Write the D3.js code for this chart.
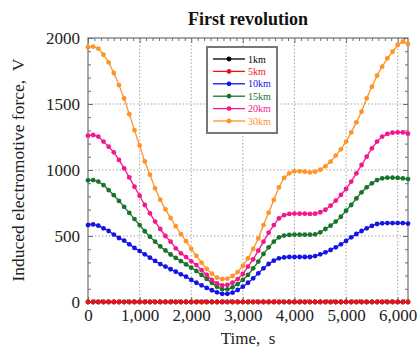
<!DOCTYPE html>
<html><head><meta charset="utf-8">
<script src="https://cdn.jsdelivr.net/npm/d3@7"></script>
<style>body{margin:0;background:#fff}svg{display:block}</style>
</head><body>
<svg id="c" width="417" height="347"></svg>
<script>
// ---- data ----
const times = d3.range(0, 6201, 100); // 63 samples, every 100 s
const seriesNames = ["1km", "5km", "10km", "15km", "20km", "30km"];
const seriesColors = ["#000000", "#e8141c", "#1414e6", "#17752a", "#f5168f", "#ff9426"];
const v1km = times.map(() => 0);
const v5km = times.map(() => 0);
const v10km = [583,588,578,558,538,511,485,465,437,410,386,361,336,311,287,268,248,230,210,192,167,146,126,107,89,73,62,62,
  71,91,116,146,179,217,255,288,313,331,338,341,341,341,341,341,348,361,376,394,414,437,462,490,515,538,558,576,591,596,598,598,598,598,594];
const v15km = [922,924,912,886,848,809,766,721,675,628,583,536,495,457,421,390,360,334,309,
  285,260,235,205,175,145,115,97,96,111,136,167,205,255,306,364,414,457,490,503,
  508,510,510,510,510,513,528,553,578,609,646,692,735,785,831,869,899,924,937,942,942,940,937,931];
const v20km = [1260,1265,1253,1215,1177,1134,1076,1013,944,874,805,735,672,609,553,500,457,407,369,340,308,280,
  242,205,167,141,126,129,146,174,212,268,323,389,457,525,583,634,658,
  667,670,669,669,667,669,680,699,730,768,811,856,912,975,1038,1101,1164,1215,1253,1273,1283,1285,1285,1275];
const v30km = [1930,1935,1920,1873,1815,1735,1643,1542,1423,1302,1186,1065,964,861,775,702,637,574,514,461,403,349,
  298,251,214,184,174,177,197,227,273,331,402,482,583,677,773,869,940,
  975,990,990,987,982,987,1002,1028,1063,1109,1157,1215,1285,1361,1442,1543,1631,1715,1783,1846,1896,1947,1972,1955];
const seriesValues = [v1km, v5km, v10km, v15km, v20km, v30km];
const xTicks = [0, 1000, 2000, 3000, 4000, 5000, 6000];
const yTicks = [0, 500, 1000, 1500, 2000];
const title = "First revolution";
const xTitle = "Time,\u00a0\u00a0s";
const yTitle = "Induced electromotive force,\u00a0\u00a0V";

// ---- layout ----
const L = 88, R = 408, T = 38, B = 302;
const svg = d3.select("#c");
const font = "'Liberation Serif', 'Times New Roman', serif";
const x = d3.scaleLinear().domain([0, 6200]).range([L, R]);
const y = d3.scaleLinear().domain([0, 2000]).range([B, T]);
const axisCol = "#6e6e6e";

// grid
const grid = svg.append("g");
grid.selectAll(".gx").data(xTicks.filter(d => d > 0)).join("line")
  .attr("x1", d => x(d)).attr("x2", d => x(d)).attr("y1", T).attr("y2", B)
  .attr("stroke", "#9a9a9a").attr("stroke-width", 0.9).attr("stroke-dasharray", "1.5,2");
grid.selectAll(".gy").data(yTicks.filter(d => d > 0 && d < 2000)).join("line")
  .attr("x1", L).attr("x2", R).attr("y1", d => y(d)).attr("y2", d => y(d))
  .attr("stroke", "#9a9a9a").attr("stroke-width", 0.9).attr("stroke-dasharray", "1.5,2");

// axes
const xMinor = d3.range(0, 6201, 125).filter(d => d % 1000 !== 0);
const yMinor = d3.range(0, 2001, 100).filter(d => d % 500 !== 0);
function styleAxis(g) {
  g.select(".domain").remove();
  g.selectAll("line").attr("stroke", axisCol);
  g.selectAll("text").attr("font-family", font).attr("font-size", 17).attr("fill", "#222");
}
svg.append("g").attr("transform", `translate(0,${B})`)
  .call(d3.axisBottom(x).tickValues(xTicks).tickSize(-5).tickPadding(7).tickFormat(d3.format(","))).call(styleAxis);
svg.append("g").attr("transform", `translate(0,${B})`)
  .call(d3.axisBottom(x).tickValues(xMinor).tickSize(-3).tickFormat("")).call(styleAxis);
svg.append("g").attr("transform", `translate(0,${T})`)
  .call(d3.axisTop(x).tickValues(xTicks).tickSize(-5).tickFormat("")).call(styleAxis);
svg.append("g").attr("transform", `translate(0,${T})`)
  .call(d3.axisTop(x).tickValues(xMinor).tickSize(-3).tickFormat("")).call(styleAxis);
svg.append("g").attr("transform", `translate(${L},0)`)
  .call(d3.axisLeft(y).tickValues(yTicks).tickSize(-5).tickPadding(8).tickFormat(d3.format("d"))).call(styleAxis);
svg.append("g").attr("transform", `translate(${L},0)`)
  .call(d3.axisLeft(y).tickValues(yMinor).tickSize(-3).tickFormat("")).call(styleAxis);
svg.append("g").attr("transform", `translate(${R},0)`)
  .call(d3.axisRight(y).tickValues(yTicks).tickSize(-5).tickFormat("")).call(styleAxis);
svg.append("g").attr("transform", `translate(${R},0)`)
  .call(d3.axisRight(y).tickValues(yMinor).tickSize(-3).tickFormat("")).call(styleAxis);

svg.append("rect").attr("x", L).attr("y", T).attr("width", R - L).attr("height", B - T)
  .attr("fill", "none").attr("stroke", axisCol).attr("stroke-width", 1.2);

// series
const line = d3.line().x((d, i) => x(times[i])).y(d => y(d));
seriesValues.forEach((vals, si) => {
  const g = svg.append("g");
  g.append("path").attr("d", line(vals)).attr("fill", "none")
    .attr("stroke", seriesColors[si]).attr("stroke-width", 1.3);
  g.selectAll("circle").data(vals).join("circle")
    .attr("cx", (d, i) => x(times[i])).attr("cy", d => y(d)).attr("r", 2.4)
    .attr("fill", seriesColors[si]);
});

// titles
svg.append("text").attr("x", 248).attr("y", 25).attr("text-anchor", "middle")
  .attr("font-family", font).attr("font-weight", "bold").attr("font-size", 18).attr("fill", "#111").text(title);
svg.append("text").attr("x", 248).attr("y", 344).attr("text-anchor", "middle")
  .attr("font-family", font).attr("font-size", 17).attr("fill", "#222").text(xTitle);
svg.append("text").attr("transform", `translate(24,170) rotate(-90)`).attr("text-anchor", "middle")
  .attr("font-family", font).attr("font-size", 17.5).attr("fill", "#222").text(yTitle);

// legend
const lg = svg.append("g");
lg.append("rect").attr("x", 207).attr("y", 47).attr("width", 70).attr("height", 86)
  .attr("fill", "#fff").attr("stroke", "#777").attr("stroke-width", 2);
seriesNames.forEach((n, i) => {
  const yy = 59 + i * 12.4;
  lg.append("line").attr("x1", 213).attr("x2", 245).attr("y1", yy).attr("y2", yy)
    .attr("stroke", seriesColors[i]).attr("stroke-width", 1.3);
  lg.append("circle").attr("cx", 229).attr("cy", yy).attr("r", 2.4).attr("fill", seriesColors[i]);
  lg.append("text").attr("x", 248).attr("y", yy + 3.5).attr("font-family", font).attr("font-size", 10)
    .attr("fill", seriesColors[i]).text(n);
});
</script>
</body></html>
